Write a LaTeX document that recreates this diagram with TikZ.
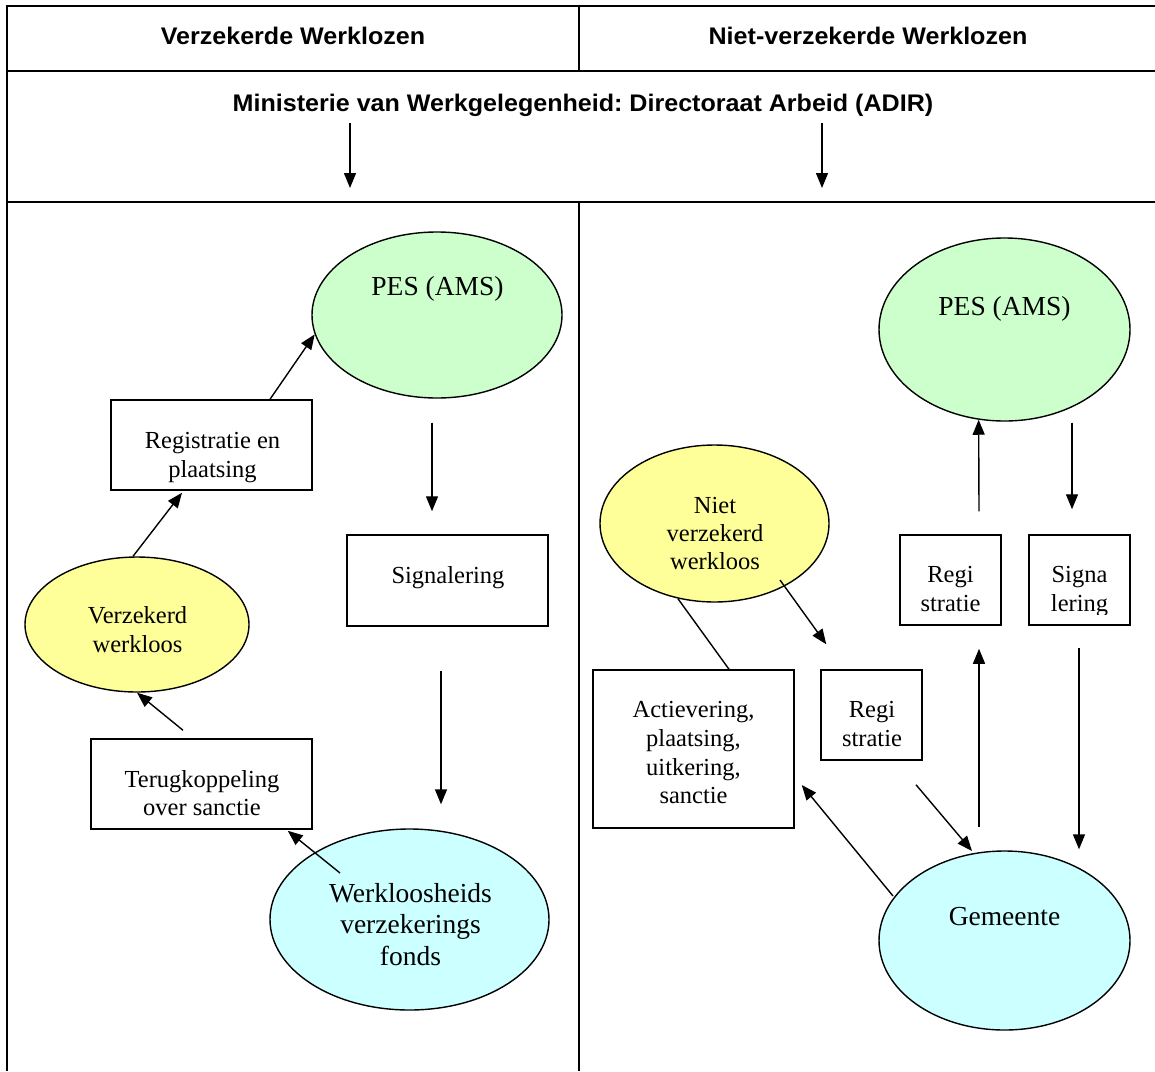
\documentclass[tikz,border=0pt]{standalone}
\usepackage{fontspec}
\setmainfont{Liberation Serif}
\newfontfamily\hdfont[FakeStretch=1.045]{Liberation Sans}
\usetikzlibrary{arrows.meta,shapes.geometric,calc}
\definecolor{pesgreen}{HTML}{CCFFCC}
\definecolor{ylw}{HTML}{FFFF99}
\definecolor{cyn}{HTML}{CCFFFF}
\frenchspacing
\begin{document}
\begin{tikzpicture}[x=1pt,y=-1pt,
 grid/.style={line width=2pt},
 hdr/.style={font=\hdfont\bfseries\fontsize{24}{28}\selectfont, inner sep=0pt, anchor=base},
 ell/.style={ellipse, draw, line width=1.4pt, inner sep=0pt},
 box/.style={rectangle, draw, line width=1.5pt, inner sep=0pt},
 btxt/.style={font=\fontsize{24.5}{29}\selectfont, inner sep=0pt, anchor=base},
 etxt/.style={font=\fontsize{27.5}{32}\selectfont, inner sep=0pt, anchor=base},
 arr/.style={line width=1.4pt, -{Triangle[length=15pt,width=12pt]}},
 lnk/.style={line width=1.4pt},
]
\useasboundingbox (0,0) rectangle (1155,1071);
\fill[white] (0,0) rectangle (1155,1071);

% table grid
\draw[grid] (6,6) -- (1155,6);
\draw[grid] (6,71) -- (1155,71);
\draw[grid] (6,202) -- (1155,202);
\draw[grid] (7,5) -- (7,1071);
\draw[grid] (579,6) -- (579,71);
\draw[grid] (579,202) -- (579,1071);

% headers
\node[hdr] (h1) at (293,44) {Verzekerde Werklozen};
\node[hdr] (h2) at (868,44) {Niet-verzekerde Werklozen};
\node[hdr] (h3) at (583,111) {Ministerie van Werkgelegenheid: Directoraat Arbeid (ADIR)};
\coordinate (ma1) at (350,123);
\coordinate (mb1) at (350,188);
\coordinate (ma2) at (822,123);
\coordinate (mb2) at (822,188);
\draw[arr] (ma1) -- (mb1);
\draw[arr] (ma2) -- (mb2);

% ---------- left panel ----------
\node[ell, fill=pesgreen, minimum width=250pt, minimum height=166pt] (pesL) at (437,315) {};
\node[etxt] (pesLt) at (437.5,295) {PES (AMS)};

\node[box, minimum width=201pt, minimum height=90pt] (regL) at (211.5,445) {};
\node[btxt] (regLa) at (212.5,448) {Registratie en};
\node[btxt] (regLb) at (212.5,477) {plaatsing};

\node[ell, fill=ylw, minimum width=224pt, minimum height=135pt] (verzL) at (137,624.5) {};
\node[btxt] (verzLa) at (137.5,623) {Verzekerd};
\node[btxt] (verzLb) at (137.5,652) {werkloos};

\node[box, minimum width=201pt, minimum height=91pt] (sigL) at (447.5,580.5) {};
\node[btxt] (sigLt) at (448,583) {Signalering};

\node[box, minimum width=221pt, minimum height=90pt] (terL) at (201.5,784) {};
\node[btxt] (terLa) at (202,787) {Terugkoppeling};
\node[btxt] (terLb) at (202,815) {over sanctie};

\node[ell, fill=cyn, minimum width=279pt, minimum height=181pt] (fondsL) at (409.5,919.5) {};
\node[etxt] (fondsLa) at (410.5,902) {Werkloosheids};
\node[etxt] (fondsLb) at (410.5,933) {verzekerings};
\node[etxt] (fondsLc) at (410.5,965) {fonds};

\draw[arr] ($(verzL.north)+(-4,0)$) -- ($(regL.south)+(-29.5,2)$);
\draw[arr] ($(regL.north)+(58.5,0)$) -- (pesL.189);
\draw[arr] ($(pesL.south)+(-5,24)$) -- ($(sigL.north)+(-15.5,-23)$);
\draw[arr] ($(sigL.south)+(-6.5,44)$) -- ($(fondsL.north)+(31.5,-24)$);
\draw[arr] ($(fondsL.center)+(-69.5,-46.5)$) -- ($(terL.south east)+(-25,1)$);
\draw[arr] ($(terL.north)+(-18.5,-8)$) -- (verzL.south);

% ---------- right panel ----------
\node[ell, fill=pesgreen, minimum width=251pt, minimum height=183pt] (pesR) at (1004.5,329.5) {};
\node[etxt] (pesRt) at (1004.5,315) {PES (AMS)};

\node[ell, fill=ylw, minimum width=229pt, minimum height=157pt] (nietR) at (714.5,523.5) {};
\node[btxt] (nietRa) at (715,513) {Niet};
\node[btxt] (nietRb) at (715,541) {verzekerd};
\node[btxt] (nietRc) at (715,569) {werkloos};

\node[box, minimum width=101pt, minimum height=90pt] (regR1) at (950.5,580) {};
\node[btxt] (regR1a) at (950.5,582) {Regi};
\node[btxt] (regR1b) at (950.5,611) {stratie};

\node[box, minimum width=101pt, minimum height=90pt] (sigR) at (1079.5,580) {};
\node[btxt] (sigRa) at (1079.5,582) {Signa};
\begin{scope}
  \clip (1030,540) rectangle (1129,614);
  \node[btxt] (sigRb) at (1079.5,611) {lering};
\end{scope}

\node[box, minimum width=201pt, minimum height=158pt] (actR) at (693.5,749) {};
\node[btxt] (actRa) at (693.5,717) {Actievering,};
\node[btxt] (actRb) at (693.5,746) {plaatsing,};
\node[btxt] (actRc) at (693.5,775) {uitkering,};
\node[btxt] (actRd) at (693.5,803) {sanctie};

\node[box, minimum width=101pt, minimum height=90pt] (regR2) at (871.5,715) {};
\node[btxt] (regR2a) at (872,717) {Regi};
\node[btxt] (regR2b) at (872,746) {stratie};

\node[ell, fill=cyn, minimum width=251pt, minimum height=179pt] (gemR) at (1004.5,940.5) {};
\node[etxt] (gemRt) at (1004.5,925) {Gemeente};

\draw[arr] ($(regR1.north)+(28.5,-23)$) -- (pesR.254);
\draw[arr] ($(pesR.south)+(67.5,1)$) -- ($(sigR.north)+(-7.5,-25)$);
\draw[arr] ($(nietR.center)+(65.5,56.5)$) -- ($(regR2.north west)+(6,-25)$);
\draw[lnk] (nietR.244.6) -- ($(actR.north)+(35.5,0)$);
\draw[arr] ($(regR2.south)+(44.5,24)$) -- ($(gemR.center)+(-32.5,-89.5)$);
\draw[arr] ($(gemR.center)+(-111.5,-44.5)$) -- ($(actR.east)+(7,36)$);
\draw[arr] ($(gemR.north)+(-25.5,-23)$) -- ($(regR1.south)+(28.5,23)$);
\draw[arr] ($(sigR.south)+(-0.5,22)$) -- ($(gemR.north)+(74.5,-1)$);
\end{tikzpicture}
\end{document}
